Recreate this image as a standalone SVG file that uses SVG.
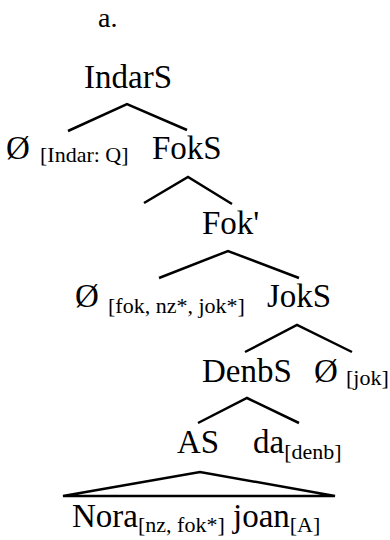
<svg xmlns="http://www.w3.org/2000/svg" width="390" height="540" viewBox="0 0 390 540">
<style>
.n{font-size:33px}
.s{font-size:22px}
.e{stroke:#000;stroke-width:2.5;fill:none}
</style>
<rect width="390" height="540" fill="#fff"/>
<g font-family="'Liberation Serif', 'Times New Roman', Times, serif" fill="#000">
<g id="label"><text x="98" y="27" font-size="28">a.</text></g>
<g id="IndarS"><text class="n" x="84" y="88">IndarS</text></g>
<g id="null-indar"><text class="n" x="6" y="159">Ø</text><text class="s" x="40" y="162">[Indar: Q]</text></g>
<g id="FokS"><text class="n" x="152" y="159">FokS</text></g>
<g id="Fok-bar"><text class="n" x="202" y="234">Fok'</text></g>
<g id="null-fok"><text class="n" x="75" y="307">Ø</text><text class="s" x="108" y="313">[fok, nz*, jok*]</text></g>
<g id="JokS"><text class="n" x="267" y="307">JokS</text></g>
<g id="DenbS"><text class="n" x="202" y="382">DenbS</text></g>
<g id="null-jok"><text class="n" x="314" y="382">Ø</text><text class="s" x="346" y="385">[jok]</text></g>
<g id="AS"><text class="n" x="177" y="453">AS</text></g>
<g id="da"><text class="n" x="253" y="453">da<tspan class="s" dy="6">[denb]</tspan></text></g>
<g id="AS-content"><text class="n" x="72" y="527">Nora<tspan class="s" dy="5">[nz, fok*]</tspan><tspan dy="-5"> joan</tspan><tspan class="s" dy="5">[A]</tspan></text></g>
</g>
<g id="connectors">
<polyline class="e" points="68,131 127,104 187,130"/>
<polyline class="e" points="144,203 188,177 232,204"/>
<polyline class="e" points="159,278 228,251 299,278"/>
<polyline class="e" points="245,352 297,325 352,352"/>
<polyline class="e" points="198,423 247,398 299,423"/>
<polygon class="e" points="63,496 200,472 335,496"/>
</g>
</svg>
